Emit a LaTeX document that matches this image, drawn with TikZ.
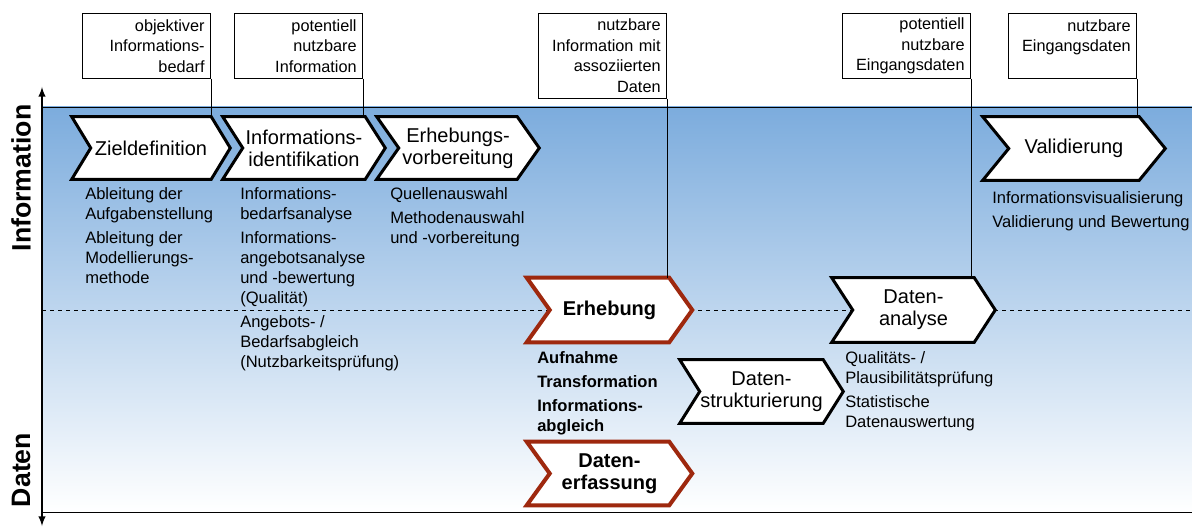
\documentclass[tikz,border=0pt]{standalone}
\usepackage{fontspec}
\setmainfont{Liberation Sans}
\usetikzlibrary{arrows}
\definecolor{infoblue}{RGB}{124,172,221}
\definecolor{erhred}{RGB}{158,40,14}
\newcommand{\chevfont}{\fontsize{15pt}{16.3pt}\selectfont}
\newcommand{\descfont}{\fontsize{12.4pt}{15pt}\selectfont}
\newcommand{\boxfont}{\fontsize{12.2pt}{15.4pt}\selectfont}
\newcommand{\axisfont}{\fontsize{20pt}{24pt}\selectfont\bfseries}
\pgfdeclarelayer{back}
\pgfdeclarelayer{chev}
\pgfsetlayers{back,chev,main}
\tikzset{
  chevnode/.style={minimum width=#1, minimum height=46.5pt, inner sep=0pt, align=center, font=\chevfont},
  chevline/.style={draw=black, fill=white, line width=2.25pt},
  redline/.style={draw=erhred, fill=white, line width=3pt},
  infobox/.style={draw, line width=0.6pt, anchor=north east, align=right, font=\boxfont,
    text width=87pt, inner xsep=4.5pt, inner ysep=2pt, minimum height=48.75pt},
  desc/.style={anchor=north west, align=left, inner sep=0pt, font=\descfont}
}
\begin{document}
\begin{tikzpicture}[x=0.75pt,y=-0.75pt]
\useasboundingbox (0,0) rectangle (1192,527);

% background and axis
\begin{pgfonlayer}{back}
\shade[top color=infoblue, bottom color=white] (42,107) rectangle (1192,512);
\draw[line width=0.7pt] (42,107) -- (1192,107);
\draw[line width=0.7pt] (42,512) -- (1192,512);
\draw[dashed, line width=0.6pt] (42,310) -- (1192,310);
\end{pgfonlayer}
\coordinate (axtop) at (42,87);
\coordinate (axbot) at (42,526);
\draw[latex-latex, line width=1.5pt] (axbot) -- (axtop);
\node[rotate=90, font=\axisfont] (lblinfo) at (21,178) {Information};
\node[rotate=90, font=\axisfont] (lbldat) at (21,470) {Daten};

% process steps
\node[chevnode=118.5pt] (zd) at (151,148) {Zieldefinition};
\node[chevnode=121.5pt] (ii) at (304,148) {Informations-\\identifikation};
\node[chevnode=121.5pt] (ev) at (458,148) {Erhebungs-\\vorbereitung};
\node[chevnode=136.5pt, minimum height=47.25pt] (va) at (1074,148.5) {Validierung};
\node[chevnode=123.75pt, minimum height=48pt, font=\chevfont\bfseries] (er) at (609.5,310) {Erhebung};
\node[chevnode=123.75pt, minimum height=47.25pt, font=\chevfont\bfseries] (de) at (609.5,473.5) {Daten-\\erfassung};
\node[chevnode=122.25pt, minimum height=47.25pt] (ds) at (761.5,391.5) {Daten-\\strukturierung};
\node[chevnode=122.25pt, minimum height=48pt] (da) at (913.5,310) {Daten-\\analyse};

\begin{pgfonlayer}{chev}
\foreach \n/\d in {zd/14.25,ii/15,ev/16.5,va/19.5,ds/15,da/15.75}
  \draw[chevline] (\n.north west) -- ([xshift=-\d pt]\n.north east) -- (\n.east)
    -- ([xshift=-\d pt]\n.south east) -- (\n.south west) -- ([xshift=\d pt]\n.west) -- cycle;
\foreach \n in {er,de}
  \draw[redline] (\n.north west) -- ([xshift=-17.25pt]\n.north east) -- (\n.east)
    -- ([xshift=-17.25pt]\n.south east) -- (\n.south west) -- ([xshift=17.25pt]\n.west) -- cycle;
\end{pgfonlayer}

% descriptions
\node[desc] (zdtxt) at (85,187) {Ableitung der\\Aufgabenstellung\\[3pt]Ableitung der\\Modellierungs-\\methode};
\node[desc] (iitxt) at (240,187) {Informations-\\bedarfsanalyse\\[3pt]Informations-\\angebotsanalyse\\und -bewertung\\(Qualität)\\[3pt]Angebots- /\\Bedarfsabgleich\\(Nutzbarkeitsprüfung)};
\node[desc] (evtxt) at (390,187) {Quellenauswahl\\[3pt]Methodenauswahl\\und -vorbereitung};
\node[desc] (vatxt) at (992,191) {Informationsvisualisierung\\[3pt]Validierung und Bewertung};
\node[desc, font=\descfont\bfseries] (ertxt) at (537,351) {Aufnahme\\[3pt]Transformation\\[3pt]Informations-\\abgleich};
\node[desc] (datxt) at (845,351) {Qualitäts- /\\Plausibilitätsprüfung\\[3pt]Statistische\\Datenauswertung};

% results
\node[infobox] (b1) at (211,13) {objektiver\\Informations-\\bedarf};
\node[infobox] (b2) at (363,13) {potentiell\\nutzbare\\Information};
\node[infobox, minimum height=63.75pt] (b3) at (667,13) {nutzbare\\Information mit\\assoziierten\\Daten};
\node[infobox] (b4) at (971,13) {potentiell\\nutzbare\\Eingangsdaten};
\node[infobox] (b5) at (1137,13) {nutzbare\\Eingangsdaten\\\mbox{}};

\draw[line width=0.6pt] (b1.south east) -- (b1.south east |- zd.north);
\draw[line width=0.6pt] (b2.south east) -- (b2.south east |- ii.north);
\draw[line width=0.6pt] (b3.south east) -- (b3.south east |- er.north);
\draw[line width=0.6pt] (b4.south east) -- (b4.south east |- da.north);
\draw[line width=0.6pt] (b5.south east) -- (b5.south east |- va.north);
\end{tikzpicture}
\end{document}
